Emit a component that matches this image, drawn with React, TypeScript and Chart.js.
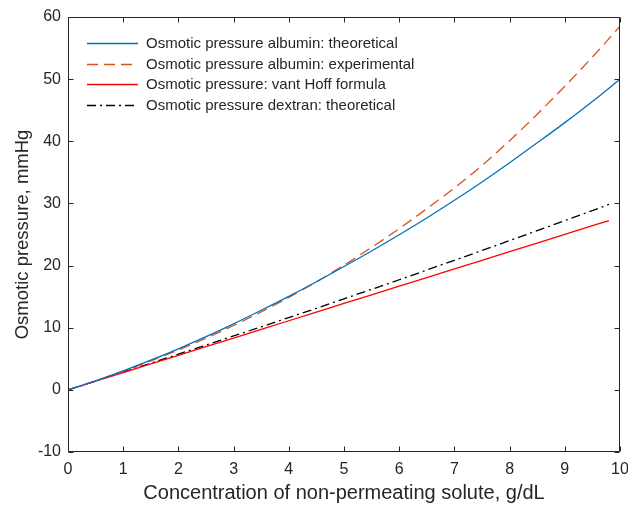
import React, { useEffect, useRef } from "react";
import { Chart, registerables } from "chart.js";

Chart.register(...registerables);

// ---- data ----
const xAlbumin = [0, 0.5, 1, 1.5, 2, 2.5, 3, 3.5, 4, 4.5, 5, 5.5, 6, 6.5, 7, 7.5, 8, 8.5, 9, 9.5, 10];
const albuminTheoretical = [0, 1.46, 3.06, 4.77, 6.61, 8.56, 10.63, 12.81, 15.05, 17.4, 19.85, 22.35, 24.95, 27.65, 30.5, 33.45, 36.55, 39.75, 43.0, 46.4, 50.0];
const albuminExperimental = [0, 1.45, 2.99, 4.65, 6.42, 8.32, 10.36, 12.54, 14.88, 17.38, 20.06, 22.93, 25.95, 29.15, 32.5, 36.1, 40.1, 44.35, 48.85, 53.55, 58.5];
const xSolute = [0, 0.5, 1, 1.5, 2, 2.5, 3, 3.5, 4, 4.5, 5, 5.5, 6, 6.5, 7, 7.5, 8, 8.5, 9, 9.5, 9.8];
const vantHoff = [0, 1.39, 2.78, 4.17, 5.56, 6.95, 8.34, 9.73, 11.12, 12.51, 13.9, 15.29, 16.68, 18.07, 19.46, 20.85, 22.24, 23.63, 25.02, 26.41, 27.24];
const dextranTheoretical = [0, 1.43, 2.86, 4.3, 5.75, 7.2, 8.67, 10.14, 11.63, 13.13, 14.65, 16.18, 17.72, 19.28, 20.85, 22.43, 24.02, 25.62, 27.23, 28.85, 29.83];

const seriesLabels = [
  "Osmotic pressure albumin: theoretical",
  "Osmotic pressure albumin: experimental",
  "Osmotic pressure: vant Hoff formula",
  "Osmotic pressure dextran: theoretical",
];
const xTitle = "Concentration of non-permeating solute, g/dL";
const yTitle = "Osmotic pressure, mmHg";
const xMin = 0, xMax = 10, xStep = 1;
const yMin = -10, yMax = 60, yStep = 10;

const FONT = '"Liberation Sans", Arial, Helvetica, sans-serif';
const AXIS_COLOR = "#262626";

const toPoints = (xs: number[], ys: number[]) => xs.map((x, i) => ({ x, y: ys[i] }));

const boxPlugin = {
  id: "matlabBox",
  afterDatasetsDraw(chart: any) {
    const { ctx, chartArea: a, scales } = chart;
    const L = Math.round(a.left) + 0.5;
    const R = Math.round(a.right) - 0.5;
    const T = Math.round(a.top) + 0.5;
    const B = Math.round(a.bottom) - 0.5;
    const tl = 5;
    ctx.save();
    ctx.strokeStyle = AXIS_COLOR;
    ctx.lineWidth = 1;
    ctx.setLineDash([]);
    ctx.beginPath();
    ctx.rect(L, T, R - L, B - T);
    ctx.stroke();
    ctx.beginPath();
    scales.x.ticks.forEach((t: any) => {
      const px = Math.round(scales.x.getPixelForValue(t.value)) + 0.5;
      ctx.moveTo(px, B);
      ctx.lineTo(px, B - tl);
      ctx.moveTo(px, T);
      ctx.lineTo(px, T + tl);
    });
    scales.y.ticks.forEach((t: any) => {
      const py = Math.round(scales.y.getPixelForValue(t.value)) + 0.5;
      ctx.moveTo(L, py);
      ctx.lineTo(L + tl, py);
      ctx.moveTo(R, py);
      ctx.lineTo(R - tl, py);
    });
    ctx.stroke();

    // legend (MATLAB style, inside top-left)
    ctx.font = `15px ${FONT}`;
    ctx.textBaseline = "middle";
    ctx.textAlign = "left";
    chart.data.datasets.forEach((ds: any, i: number) => {
      const y = Math.round(a.top + 26 + i * 20.7) + 0.5;
      ctx.beginPath();
      ctx.strokeStyle = ds.borderColor;
      ctx.lineWidth = ds.borderWidth;
      ctx.setLineDash(ds.borderDash || []);
      ctx.moveTo(a.left + 19, y);
      ctx.lineTo(a.left + 70, y);
      ctx.stroke();
      ctx.setLineDash([]);
      ctx.fillStyle = AXIS_COLOR;
      ctx.fillText(ds.label, a.left + 78, y);
    });
    ctx.restore();
  },
};

export default function App() {
  const ref = useRef<HTMLCanvasElement | null>(null);

  useEffect(() => {
    document.body.style.margin = "0";
    const canvas = ref.current;
    if (!canvas) return;
    const chart = new Chart(canvas, {
      type: "line",
      data: {
        datasets: [
          {
            label: seriesLabels[0],
            data: toPoints(xAlbumin, albuminTheoretical),
            borderColor: "#0072BD",
            borderWidth: 1.3,
            pointRadius: 0,
            cubicInterpolationMode: "monotone",
          },
          {
            label: seriesLabels[1],
            data: toPoints(xAlbumin, albuminExperimental),
            borderColor: "#D95319",
            borderWidth: 1.3,
            borderDash: [11, 6],
            pointRadius: 0,
            cubicInterpolationMode: "monotone",
          },
          {
            label: seriesLabels[2],
            data: toPoints(xSolute, vantHoff),
            borderColor: "#FF0000",
            borderWidth: 1.3,
            pointRadius: 0,
          },
          {
            label: seriesLabels[3],
            data: toPoints(xSolute, dextranTheoretical),
            borderColor: "#000000",
            borderWidth: 1.3,
            borderDash: [9, 4, 2, 4],
            pointRadius: 0,
            cubicInterpolationMode: "monotone",
          },
        ],
      },
      options: {
        animation: false,
        responsive: false,
        maintainAspectRatio: false,
        layout: { padding: { top: 17, right: 0, left: 0, bottom: 0 } },
        plugins: { legend: { display: false }, tooltip: { enabled: false } },
        scales: {
          x: {
            type: "linear",
            min: xMin,
            max: xMax,
            grid: { display: false, drawTicks: false },
            border: { display: false },
            ticks: {
              stepSize: xStep,
              color: AXIS_COLOR,
              font: { family: FONT, size: 16 },
              padding: 8,
              maxRotation: 0,
              autoSkip: false,
            },
            title: {
              display: true,
              text: xTitle,
              color: AXIS_COLOR,
              font: { family: FONT, size: 20 },
              padding: { top: 0, bottom: 1 },
            },
            afterFit: (s: any) => {
              s.height = 54;
              s.paddingLeft = 0;
              s.paddingRight = 8;
            },
          },
          y: {
            type: "linear",
            min: yMin,
            max: yMax,
            grid: { display: false, drawTicks: false },
            border: { display: false },
            ticks: {
              stepSize: yStep,
              color: AXIS_COLOR,
              font: { family: FONT, size: 16 },
              padding: 7,
              autoSkip: false,
            },
            title: {
              display: true,
              text: yTitle,
              color: AXIS_COLOR,
              font: { family: FONT, size: 18.5 },
              padding: { top: 12, bottom: 0 },
            },
            afterFit: (s: any) => {
              s.width = 68;
              s.paddingTop = 0;
              s.paddingBottom = 0;
            },
          },
        },
      },
      plugins: [boxPlugin],
    } as any);
    return () => chart.destroy();
  }, []);

  return (
    <div style={{ width: 628, height: 506, background: "#fff" }}>
      <canvas ref={ref} width={628} height={506} style={{ display: "block" }} />
    </div>
  );
}
